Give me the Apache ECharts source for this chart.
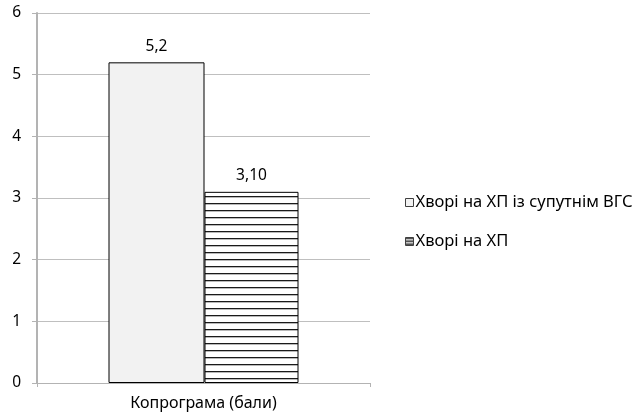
<!DOCTYPE html>
<html>
<head>
<meta charset="utf-8">
<script src="https://cdn.jsdelivr.net/npm/echarts@6/dist/echarts.min.js"></script>
<style>
  html, body { margin: 0; padding: 0; background: #ffffff; }
  #chart { width: 633px; height: 414px; }
</style>
</head>
<body>
<div id="chart"></div>
<script>
// Chart data
const categories = ['Копрограма (бали)'];
const seriesNames = ['Хворі на ХП із супутнім ВГС', 'Хворі на ХП'];
const valuesVGS = [5.2];
const valuesXP = [3.10];
const labelDecimals = [1, 2];
const yTicks = { min: 0, max: 6, interval: 1 };

// Horizontal stripe fill for the second series
function stripePattern(h, line) {
  const c = document.createElement('canvas');
  c.width = 8;
  c.height = h;
  const ctx = c.getContext('2d');
  ctx.fillStyle = '#ffffff';
  ctx.fillRect(0, 0, 8, h);
  ctx.fillStyle = '#1a1a1a';
  ctx.fillRect(0, 0, 8, line);
  return c;
}
const stripes = { image: stripePattern(7, 1.3), repeat: 'repeat' };
const iconStripes = { image: stripePattern(3, 1.5), repeat: 'repeat' };

const fontFamily = '"Noto Sans", "Open Sans", sans-serif';
const fmt = (d) => (p) => p.value.toFixed(d).replace('.', ',');

const chart = echarts.init(document.getElementById('chart'), null, { renderer: 'canvas' });
chart.setOption({
  animation: false,
  backgroundColor: '#ffffff',
  textStyle: { fontFamily: fontFamily },
  grid: { left: 37, right: 263, top: 13, bottom: 31, containLabel: false },
  legend: {
    orient: 'vertical',
    left: 400,
    top: 189,
    itemWidth: 8,
    itemHeight: 8,
    itemGap: 22,
    icon: 'rect',
    textStyle: { fontFamily: fontFamily, fontSize: 16.5, color: '#000000', padding: [0, 0, 0, -3] },
    data: [
      { name: seriesNames[0], itemStyle: { color: '#f2f2f2', borderColor: '#404040', borderWidth: 1 } },
      { name: seriesNames[1], itemStyle: { color: iconStripes, borderColor: '#404040', borderWidth: 1 } }
    ]
  },
  xAxis: {
    type: 'category',
    data: categories,
    axisLine: { show: true, lineStyle: { color: '#b3b3b3', width: 1 } },
    axisTick: { show: true, alignWithLabel: false, length: 4, lineStyle: { color: '#b3b3b3' } },
    axisLabel: { fontFamily: fontFamily, fontSize: 16, color: '#000000', margin: 12 }
  },
  yAxis: {
    type: 'value',
    min: yTicks.min,
    max: yTicks.max,
    interval: yTicks.interval,
    axisLine: { show: true, lineStyle: { color: '#b3b3b3', width: 2 } },
    axisTick: { show: true, length: 5, lineStyle: { color: '#b3b3b3' } },
    axisLabel: { fontFamily: fontFamily, fontSize: 15.5, color: '#000000', margin: 16 },
    splitLine: { show: true, lineStyle: { color: '#bfbfbf', width: 1 } }
  },
  series: [
    {
      name: seriesNames[0],
      type: 'bar',
      data: valuesVGS,
      barWidth: 96,
      barGap: '0%',
      itemStyle: { color: '#f2f2f2', borderColor: '#000000', borderWidth: 1 },
      label: { show: true, position: 'top', distance: 8, fontFamily: fontFamily, fontSize: 15.5, color: '#000000', formatter: fmt(labelDecimals[0]) }
    },
    {
      name: seriesNames[1],
      type: 'bar',
      data: valuesXP,
      barWidth: 94,
      barGap: '0%',
      itemStyle: { color: stripes, borderColor: '#000000', borderWidth: 1 },
      label: { show: true, position: 'top', distance: 8, fontFamily: fontFamily, fontSize: 15.5, color: '#000000', formatter: fmt(labelDecimals[1]) }
    }
  ]
});
</script>
</body>
</html>
